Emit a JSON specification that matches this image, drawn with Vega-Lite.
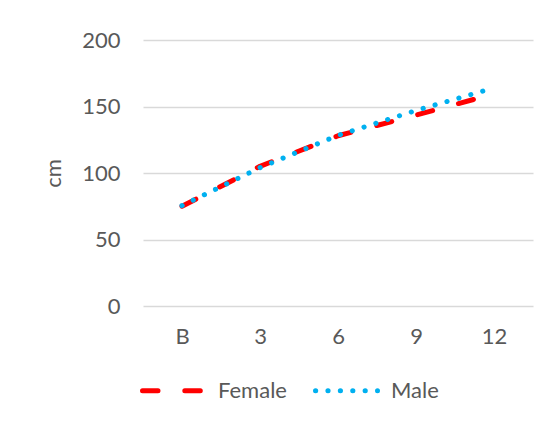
{
  "$schema": "https://vega.github.io/schema/vega-lite/v6.json",
  "autosize": "none",
  "width": 390,
  "height": 266,
  "padding": {"left": 143, "top": 40, "right": 21, "bottom": 117},
  "background": "white",
  "data": {
    "values": [
      {"age": "B", "sex": "Female", "cm": 75},
      {"age": "3", "sex": "Female", "cm": 105},
      {"age": "6", "sex": "Female", "cm": 128},
      {"age": "9", "sex": "Female", "cm": 143.5},
      {"age": "12", "sex": "Female", "cm": 159.5},
      {"age": "B", "sex": "Male", "cm": 75.5},
      {"age": "3", "sex": "Male", "cm": 104},
      {"age": "6", "sex": "Male", "cm": 128.3},
      {"age": "9", "sex": "Male", "cm": 147},
      {"age": "12", "sex": "Male", "cm": 164}
    ]
  },
  "mark": {"type": "line", "strokeWidth": 5, "strokeCap": "round", "strokeJoin": "round"},
  "encoding": {
    "x": {
      "field": "age",
      "type": "ordinal",
      "sort": ["B", "3", "6", "9", "12"],
      "scale": {"type": "point", "padding": 0.5},
      "axis": {
        "title": null,
        "labelAngle": 0,
        "domain": false,
        "ticks": false,
        "tickSize": 0,
        "grid": false,
        "labelPadding": 20,
        "labelFont": "Lato",
        "labelFontSize": 22,
        "labelColor": "#595959"
      }
    },
    "y": {
      "field": "cm",
      "type": "quantitative",
      "scale": {"domain": [0, 200], "nice": false, "zero": true},
      "axis": {
        "title": "cm",
        "values": [0, 50, 100, 150, 200],
        "domain": false,
        "ticks": false,
        "tickSize": 0,
        "grid": true,
        "gridColor": "#D9D9D9",
        "gridWidth": 1.3,
        "labelPadding": 23,
        "labelFont": "Lato",
        "labelFontSize": 22,
        "labelColor": "#595959",
        "titleFont": "Lato",
        "titleFontSize": 22,
        "titleFontWeight": "normal",
        "titleColor": "#595959",
        "titlePadding": 16
      }
    },
    "color": {
      "field": "sex",
      "type": "nominal",
      "scale": {"domain": ["Female", "Male"], "range": ["#FF0000", "#00B0F0"]},
      "legend": {
        "title": null,
        "orient": "none",
        "direction": "horizontal",
        "legendX": -3,
        "legendY": 317,
        "symbolType": "stroke",
        "symbolSize": 3844,
        "symbolStrokeWidth": 5,
        "labelFont": "Lato",
        "labelFontSize": 22,
        "labelColor": "#595959",
        "labelOffset": 11,
        "columnPadding": 18,
        "encode": {
          "symbols": {
            "update": {
              "strokeCap": {"value": "round"},
              "strokeDash": {"signal": "datum.value === 'Female' ? [21.5, 19] : [0.2, 12.1]"}
            }
          }
        }
      }
    },
    "strokeDash": {
      "field": "sex",
      "type": "nominal",
      "scale": {"domain": ["Female", "Male"], "range": [[15.5, 26.8], [0.2, 12.2]]},
      "legend": null
    }
  },
  "config": {
    "view": {"stroke": null},
    "font": "Lato"
  }
}
